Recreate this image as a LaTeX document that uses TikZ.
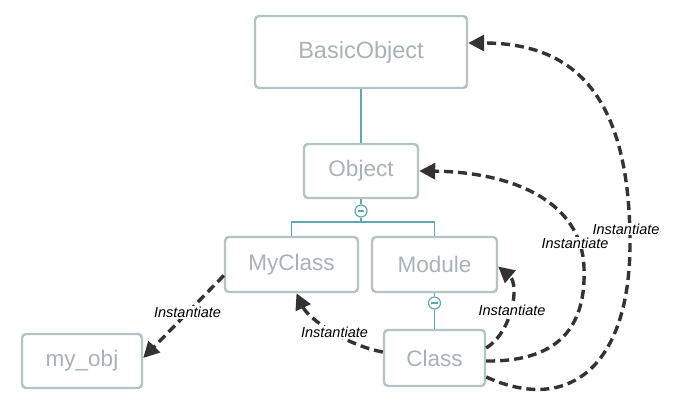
\documentclass[tikz,border=0pt]{standalone}
\usepackage{fontspec}
\setmainfont{Liberation Sans}
\usetikzlibrary{arrows.meta,calc}
\definecolor{boxline}{HTML}{B4C3C3}
\definecolor{boxtext}{HTML}{A8B3B3}
\definecolor{treeline}{HTML}{5FA9B2}
\definecolor{dash}{HTML}{333333}
\tikzset{
  cls/.style={draw=boxline, line width=2.4pt, rounded corners=4pt, fill=white,
    text=boxtext, font=\fontsize{22.5}{26}\selectfont, inner sep=0pt},
  tree/.style={draw=treeline, line width=1.4pt},
  minuscirc/.style={circle, draw=treeline, line width=1.2pt, fill=white,
    minimum size=12pt, inner sep=0pt,
    path picture={\draw[treeline, line width=1.1pt] ([xshift=-3.2pt]path picture bounding box.center) -- ([xshift=3.2pt]path picture bounding box.center);}},
  inst/.style={draw=dash, line width=3.4pt, dash pattern=on 9pt off 5pt,
    -{Triangle[length=16pt,width=16pt]}},
  lbl/.style={font=\itshape\fontsize{14.5}{17}\selectfont, text=black, fill=white, inner sep=1pt}
}
\begin{document}
\begin{tikzpicture}[x=1pt,y=-1pt]
\useasboundingbox (0,0) rectangle (676,412);
\node[cls, minimum width=212pt, minimum height=72pt, font=\fontsize{23.5}{27}\selectfont] (bo) at (361,52) {BasicObject};
\node[cls, minimum width=114pt, minimum height=54pt] (ob) at (361,171) {Object};
\node[cls, minimum width=133pt, minimum height=55pt] (mc) at (291.5,264.5) {MyClass};
\node[cls, minimum width=125pt, minimum height=55pt] (md) at (434.5,264.5) {Module};
\node[cls, minimum width=101pt, minimum height=56pt] (cl) at (434.5,358) {Class};
\node[cls, minimum width=120pt, minimum height=54pt] (mo) at (82,361) {my\_obj};

\node[minuscirc] (c1) at (361,211) {};
\node[minuscirc] (c2) at (434.5,303) {};
\coordinate (j1) at (361,222);

\draw[tree] (bo.south) -- (ob.north);
\draw[tree] (ob.south) -- (c1.north);
\draw[tree] (c1.south) -- (j1);
\draw[tree] (j1) -| (mc.north);
\draw[tree] (j1) -| (md.north);
\draw[tree] (md.south) -- (c2.north);
\draw[tree] (c2.south) -- (cl.north);

% arrows
\draw[inst] ([yshift=-11pt]mc.west) -- node[lbl, pos=0.45] {Instantiate} ([yshift=3pt]mo.east);
\draw[inst] ([yshift=6pt]cl.west) .. controls (345,345) and (308,318) .. node[lbl, pos=0.45] {Instantiate} ([xshift=5pt]mc.south);
\draw[inst] ([yshift=10pt]cl.east) .. controls (512,332) and (520,285) .. ([yshift=-2pt]md.east);
\node[lbl] (l3) at (512,310) {Instantiate};
\draw[inst] ([yshift=-3pt]cl.east) .. controls (565,362) and (586,320) .. (584,268)
   .. controls (582,200) and (510,172) .. (ob.east);
\node[lbl] (l4) at (575,243) {Instantiate};
\draw[inst] ([yshift=-19pt]cl.east) .. controls (570,415) and (631,365) .. (630,240)
   .. controls (629,90) and (570,43) .. ([yshift=9pt]bo.east);
\node[lbl] (l5) at (626,229) {Instantiate};
\end{tikzpicture}
\end{document}
